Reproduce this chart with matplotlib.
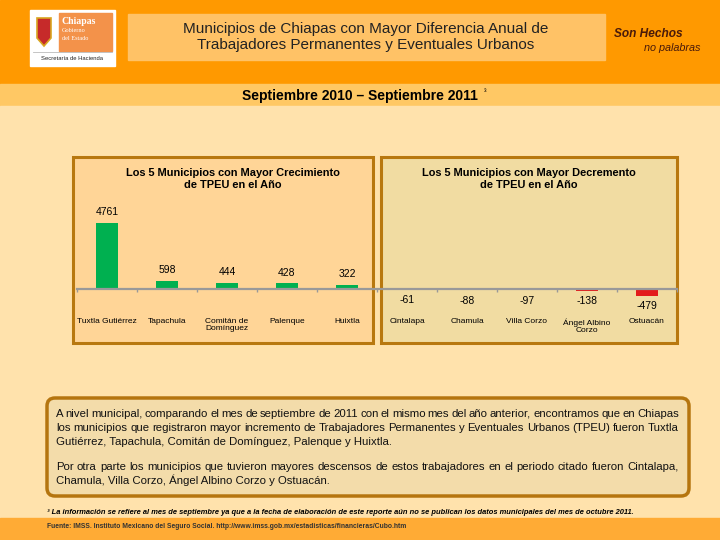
import numpy as np
import matplotlib
matplotlib.use("Agg")
import matplotlib.pyplot as plt
from matplotlib.patches import Rectangle, FancyBboxPatch, Polygon

plt.rcParams['font.family'] = ['Liberation Sans', 'DejaVu Sans']

# datos
municipios = ["Tuxtla Gutiérrez", "Tapachula", "Comitán de\nDomínguez", "Palenque", "Huixtla",
              "Cintalapa", "Chamula", "Villa Corzo", "Ángel Albino\nCorzo", "Ostuacán"]
diferencia = [4761, 598, 444, 428, 322, -61, -88, -97, -138, -479]

titulo = "Municipios de Chiapas con Mayor Diferencia Anual de\nTrabajadores Permanentes y Eventuales Urbanos"
periodo = "Septiembre 2010 – Septiembre 2011"
titulo_crec = "Los 5 Municipios con Mayor Crecimiento\nde TPEU en el Año"
titulo_decr = "Los 5 Municipios con Mayor Decremento\nde TPEU en el Año"
parrafo = [
    ("A nivel municipal, comparando el mes de septiembre de 2011 con el mismo mes del año anterior, encontramos que en Chiapas", True),
    ("los municipios que registraron mayor incremento de Trabajadores Permanentes y Eventuales Urbanos (TPEU) fueron Tuxtla", True),
    ("Gutiérrez, Tapachula, Comitán de Domínguez, Palenque y Huixtla.", False),
    ("Por otra parte los municipios que tuvieron mayores descensos de estos trabajadores en el periodo citado fueron Cintalapa,", True),
    ("Chamula, Villa Corzo, Ángel Albino Corzo y Ostuacán.", False),
]
nota = ("³ La información se refiere al mes de septiembre ya que a la fecha de elaboración de este reporte "
        "aún no se publican los datos municipales del mes de octubre 2011.")
fuente = "Fuente: IMSS. Instituto Mexicano del Seguro Social. http://www.imss.gob.mx/estadisticas/financieras/Cubo.htm"

fig = plt.figure(figsize=(7.2, 5.4), dpi=100)
bg = fig.add_axes([0, 0, 1, 1], zorder=0)
bg.set_xlim(0, 720)
bg.set_ylim(540, 0)
bg.axis('off')

# bandas de fondo
bg.add_patch(Rectangle((0, 0), 720, 84, color="#FF9900"))
bg.add_patch(Rectangle((0, 84), 720, 22, color="#FFC864"))
bg.add_patch(Rectangle((0, 106), 720, 412, color="#FFE2AC"))
bg.add_patch(Rectangle((0, 518), 720, 22, color="#FFAB35"))

# encabezado
bg.add_patch(Rectangle((128, 14), 477, 46, color="#FFC266"))
bg.text(366, 37, titulo, ha='center', va='center', fontsize=11, linespacing=1.2, color="#222222")

# logo
bg.add_patch(Rectangle((30, 10), 85, 56, color="white"))
bg.add_patch(Rectangle((59, 13), 53, 38, color="#F3924A"))
bg.plot([33, 112], [52, 52], color="#BBBBBB", lw=0.6)
bg.add_patch(Polygon([[37, 18], [51, 18], [51, 38], [44, 46], [37, 38]], closed=True,
                     fc="#C62A2A", ec="#D9A520", lw=1.2))
bg.text(62, 21, "Chiapas", fontsize=7, fontweight='bold', color="white", va='center', family='Liberation Serif')
bg.text(62, 30, "Gobierno", fontsize=4.5, color="white", va='center', family='Liberation Serif')
bg.text(62, 38, "del Estado", fontsize=4.5, color="white", va='center', family='Liberation Serif')
bg.text(72, 59, "Secretaría de Hacienda", fontsize=4.2, ha='center', va='center', color="#222222")

bg.text(614, 34, "Son Hechos", fontsize=8.6, fontweight='bold', style='italic', color="#4A1A0A", va='center')
bg.text(700, 48, "no palabras", fontsize=7.8, style='italic', color="#4A1A0A", va='center', ha='right')

# subtitulo
bg.text(360, 96, periodo, ha='center', va='center', fontsize=10, fontweight='bold')
bg.text(485, 93, "³", ha='center', va='center', fontsize=5.5)

# paneles
bg.add_patch(Rectangle((73, 157), 300, 186, fc="#FFD597", ec="#B8780F", lw=2.2))
bg.add_patch(Rectangle((381, 157), 296, 186, fc="#F1DCA2", ec="#B8780F", lw=2.2))
bg.text(233, 179, titulo_crec, ha='center', va='center', fontsize=7.9, fontweight='bold', linespacing=1.15)
bg.text(529, 179, titulo_decr, ha='center', va='center', fontsize=7.9, fontweight='bold', linespacing=1.15)

# grafica
esc = 66 / 4761.0
ax = fig.add_axes([77 / 720, (540 - 343) / 540, 600 / 720, 186 / 540], zorder=1)
ax.patch.set_alpha(0)
ax.set_xlim(-0.5, 9.5)
ax.set_ylim(-(343 - 289) / esc, (289 - 157) / esc)
x = np.arange(len(municipios))
colores = ["#00B050" if v > 0 else "#E31B1B" for v in diferencia]
barras = ax.bar(x, diferencia, width=0.38, color=colores)
ax.bar_label(barras, labels=[str(v) for v in diferencia], padding=4, fontsize=7.5)

for s in ['top', 'right', 'left']:
    ax.spines[s].set_visible(False)
ax.spines['bottom'].set_position(('data', 0))
ax.spines['bottom'].set_color("#999999")
ax.spines['bottom'].set_linewidth(1.6)
ax.set_yticks([])
ax.set_xticks(x)
ax.set_xticklabels(municipios, fontsize=6)
ax.tick_params(axis='x', which='major', length=0, pad=21)
ax.set_xticks(np.arange(-0.5, 10, 1), minor=True)
ax.tick_params(axis='x', which='minor', length=2.5, color="#999999", width=1)
for t in ax.get_xticklabels():
    t.set_linespacing(1.05)

# recuadro de texto
bg.add_patch(FancyBboxPatch((47, 398), 642, 98, boxstyle="round,pad=0,rounding_size=8",
                            fc="#F3DCAA", ec="#B5750F", lw=2.5))

renderer = fig.canvas.get_renderer()
fs = 8.2


def linea(texto, y, justificar, x0=56, x1=679):
    if not justificar:
        bg.text(x0, y, texto, fontsize=fs, va='baseline', color="#111111")
        return
    palabras = texto.split()
    objs = [bg.text(0, y, p, fontsize=fs, va='baseline', color="#111111") for p in palabras]
    anchos = [t.get_window_extent(renderer).width for t in objs]
    hueco = (x1 - x0 - sum(anchos)) / (len(palabras) - 1)
    pos = x0
    for t, w in zip(objs, anchos):
        t.set_x(pos)
        pos += w + hueco


ys = [417, 431, 445, 470, 484]
for (texto, just), y in zip(parrafo, ys):
    linea(texto, y, just)

bg.text(47, 512, nota, fontsize=5.45, style='italic', fontweight='bold', va='center')
bg.text(47, 527, fuente, fontsize=4.85, fontweight='bold', va='center', color="#333333")

fig.savefig("out.png", dpi=100)
